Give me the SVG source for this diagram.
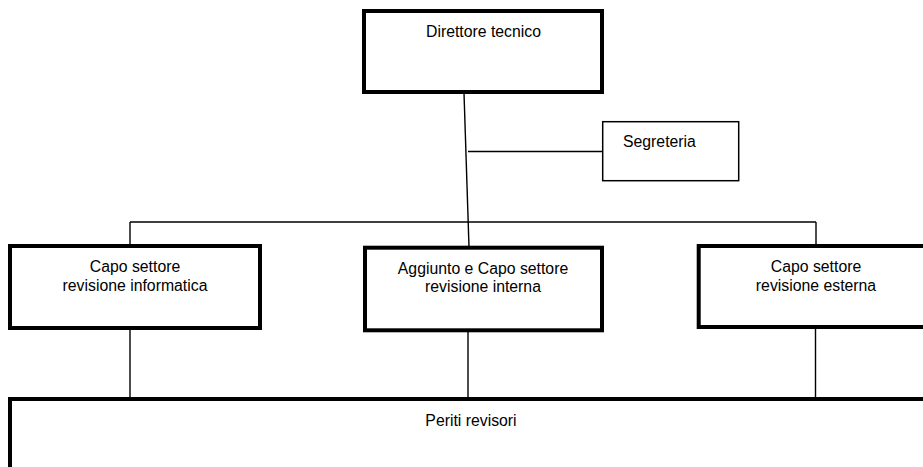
<svg xmlns="http://www.w3.org/2000/svg" width="923" height="467" viewBox="0 0 923 467">
<style>
.box{fill:#fff;stroke:#000;stroke-width:4}
.thin{fill:#fff;stroke:#000;stroke-width:1.5}
.con line{stroke:#000;stroke-width:1.4;fill:none}
text{font-family:"Liberation Sans",Arial,sans-serif;font-size:15.8px;fill:#000}
.c{text-anchor:middle}
</style>
<rect width="923" height="467" fill="#fff"/>
<g id="connectors" class="con">
<line x1="464" y1="93" x2="469" y2="247"/>
<line x1="468" y1="151.5" x2="603" y2="151.5"/>
<line x1="130" y1="222" x2="816" y2="222"/>
<line x1="130" y1="222" x2="130" y2="246"/>
<line x1="816" y1="222" x2="816" y2="246"/>
<line x1="130" y1="328" x2="130" y2="399"/>
<line x1="468" y1="331" x2="468" y2="399"/>
<line x1="815.5" y1="327" x2="815.5" y2="399"/>
</g>
<g id="direttore">
<rect class="box" x="364" y="11" width="238" height="81"/>
<text class="c" x="483.5" y="37">Direttore tecnico</text>
</g>
<g id="segreteria">
<rect class="thin" x="602.7" y="121.7" width="136" height="59"/>
<text x="623" y="147">Segreteria</text>
</g>
<g id="informatica">
<rect class="box" x="10" y="246" width="250" height="82"/>
<text class="c" x="135" y="272">Capo settore</text>
<text class="c" x="135" y="290.5">revisione informatica</text>
</g>
<g id="interna">
<rect class="box" x="365" y="247.7" width="237" height="82.6"/>
<text class="c" x="483" y="274">Aggiunto e Capo settore</text>
<text class="c" x="483" y="292">revisione interna</text>
</g>
<g id="esterna">
<rect class="box" x="698.7" y="246" width="240" height="81"/>
<text class="c" x="816" y="272">Capo settore</text>
<text class="c" x="816" y="291">revisione esterna</text>
</g>
<g id="periti">
<rect class="box" x="10" y="399" width="930" height="90"/>
<text class="c" x="471" y="426">Periti revisori</text>
</g>
</svg>
